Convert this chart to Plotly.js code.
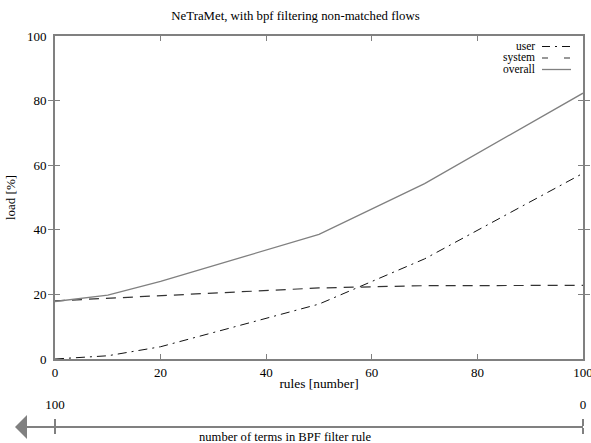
<!DOCTYPE html>
<html>
<head>
<meta charset="utf-8">
<script src="https://cdn.plot.ly/plotly-3.0.1.min.js"></script>
<style>html,body{margin:0;padding:0;background:#fff;}#chart{width:591px;height:443px;}</style>
</head>
<body>
<div id="chart"></div>
<script>
// data
var rules = [0, 10, 20, 50, 70, 100];
var userLoad = [0, 1, 3.8, 17, 31, 57.5];
var systemLoad = [18, 18.8, 19.8, 22, 22.7, 22.8];
var overallLoad = [17.8, 19.8, 24, 38.6, 54.3, 82.3];
var seriesNames = ['user', 'system', 'overall'];
var xTicks = [0, 20, 40, 60, 80, 100];
var yTicks = [0, 20, 40, 60, 80, 100];
var termTicks = [100, 0];

var gray = '#808080';
var font = 'Liberation Serif, Times New Roman, serif';

var lineStyles = [
  {color: '#111', width: 1, dash: '9px,5px,2px,5px'},
  {color: '#333', width: 1.2, dash: '10px,7px'},
  {color: gray, width: 1.3, dash: 'solid'}
];
var legendDash = ['8px,5px,2px,5px', '6px,16px', 'solid'];
var seriesY = [userLoad, systemLoad, overallLoad];

var traces = [];
for (var s = 0; s < seriesNames.length; s++) {
  traces.push({x: rules, y: seriesY[s], name: seriesNames[s], mode: 'lines', line: lineStyles[s], xaxis: 'x', yaxis: 'y'});
}
traces.push({x: [], y: [], xaxis: 'x2', yaxis: 'y', showlegend: false, hoverinfo: 'skip'});
traces.push({x: [], y: [], xaxis: 'x3', yaxis: 'y', showlegend: false, hoverinfo: 'skip'});

// geometry helpers (paper coords relative to plot area)
var W = 591, H = 443, ml = 55, mr = 8, mt = 36, mb = 16;
var pw = W - ml - mr, ph = H - mt - mb;
function px(x) { return (x - ml) / pw; }
function py(y) { return (H - mb - y) / ph; }

var legY = [46, 57.5, 69];
var shapes = [], annotations = [];
for (var i = 0; i < seriesNames.length; i++) {
  annotations.push({xref: 'paper', yref: 'paper', x: px(537), y: py(legY[i]), text: seriesNames[i],
    showarrow: false, xanchor: 'right', yanchor: 'middle', font: {family: font, size: 11.5, color: '#000'}});
  shapes.push({type: 'line', xref: 'paper', yref: 'paper', x0: px(542), x1: px(571), y0: py(legY[i] + 0.5), y1: py(legY[i] + 0.5),
    line: {color: lineStyles[i].color, width: lineStyles[i].width, dash: legendDash[i]}});
}

// arrow of the bottom axis
annotations.push({xref: 'paper', yref: 'paper', x: px(15), y: 0, ax: 583 - 15, ay: 0, text: '',
  showarrow: true, arrowhead: 1, arrowsize: 2, arrowwidth: 2, arrowcolor: gray});
annotations.push({xref: 'paper', yref: 'paper', x: px(285), y: py(437), text: 'number of terms in BPF filter rule',
  showarrow: false, xanchor: 'center', yanchor: 'middle', font: {family: font, size: 12.6, color: '#000'}});

var axisCommon = {showgrid: false, zeroline: false, showline: true, linecolor: gray, linewidth: 2,
  ticks: 'inside', ticklen: 5, tickwidth: 1, tickcolor: gray, mirror: 'allticks', ticklabeloverflow: 'allow',
  tickfont: {family: font, size: 13, color: '#000'}};

var yDomainStart = py(359);

var layout = {
  width: W, height: H,
  margin: {l: ml, r: mr, t: mt, b: mb, pad: 0},
  paper_bgcolor: '#fff', plot_bgcolor: 'rgba(0,0,0,0)',
  showlegend: false,
  title: {text: 'NeTraMet, with bpf filtering non-matched flows', font: {family: font, size: 12.8, color: '#000'},
    x: 0.5, xref: 'container', xanchor: 'center', y: 1 - 16 / H, yref: 'container', yanchor: 'middle'},
  xaxis: Object.assign({}, axisCommon, {range: [0, 100], tickvals: xTicks, anchor: 'y', ticklabelstandoff: 0,
    title: {text: 'rules [number]', font: {family: font, size: 13.4, color: '#000'}, standoff: 0}}),
  yaxis: Object.assign({}, axisCommon, {range: [0, 100], tickvals: yTicks, domain: [yDomainStart, 1], ticklabelstandoff: 4,
    title: {text: 'load [%]', font: {family: font, size: 13, color: '#000'}, standoff: 8}}),
  xaxis2: {range: [100, 0], overlaying: 'x', anchor: 'free', position: 0, side: 'top', tickvals: termTicks,
    showgrid: false, zeroline: false, showline: true, linecolor: gray, linewidth: 2,
    ticks: 'outside', ticklen: 7, tickwidth: 2, tickcolor: gray, ticklabelstandoff: 5, ticklabeloverflow: 'allow',
    tickfont: {family: font, size: 13, color: '#000'}},
  xaxis3: {range: [100, 0], overlaying: 'x', anchor: 'free', position: 0, side: 'bottom', tickvals: termTicks,
    showgrid: false, zeroline: false, showline: false, showticklabels: false,
    ticks: 'outside', ticklen: 6, tickwidth: 2, tickcolor: gray},
  shapes: shapes,
  annotations: annotations
};

Plotly.newPlot('chart', traces, layout, {staticPlot: true});
</script>
</body>
</html>
